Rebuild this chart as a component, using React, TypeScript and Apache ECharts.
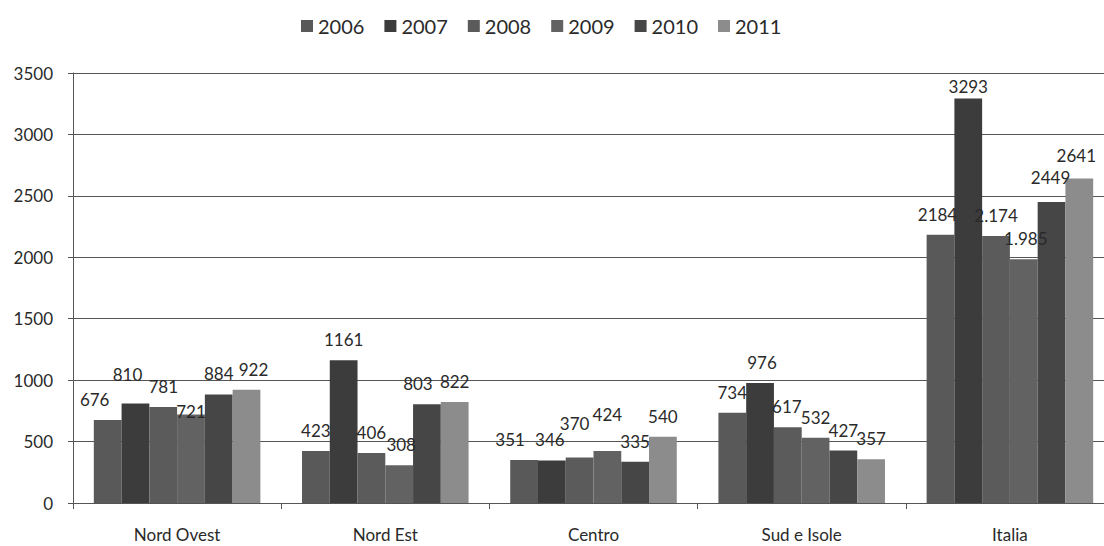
import React, { useEffect, useRef } from "react";
import * as echarts from "echarts";

const categories = ["Nord Ovest", "Nord Est", "Centro", "Sud e Isole", "Italia"];
const years = ["2006", "2007", "2008", "2009", "2010", "2011"];
const v2006 = [676, 423, 351, 734, 2184];
const v2007 = [810, 1161, 346, 976, 3293];
const v2008 = [781, 406, 370, 617, 2174];
const v2009 = [721, 308, 424, 532, 1985];
const v2010 = [884, 803, 335, 427, 2449];
const v2011 = [922, 822, 540, 357, 2641];
const yTicks = [0, 500, 1000, 1500, 2000, 2500, 3000, 3500];
// data label text as printed in the source (two values written with a dot)
const labelText: Record<string, string> = { "2008|Italia": "2.174", "2009|Italia": "1.985" };

const seriesValues = [v2006, v2007, v2008, v2009, v2010, v2011];
const colors = ["#595959", "#3c3c3c", "#5b5b5b", "#626262", "#464646", "#8c8c8c"];
// label nudges [dx, dy] per series / category (layout only)
const labelNudge: number[][][] = [
  [[-13, 0], [0, 0], [-14, 0], [0, 0], [-3, 0]],
  [[-8, -8], [0, 0], [-2, 0], [2, 0], [0, 9]],
  [[0, 0], [0, 0], [-5, -14], [-1, 0], [0, 0]],
  [[0, 18], [2, 0], [0, -16], [0, 0], [2, 0]],
  [[0, 0], [-9, 0], [0, 0], [0, 0], [-1, -4]],
  [[7, 0], [0, 0], [0, 0], [0, 0], [-3, -3]],
];

const FONT = "Lato";

export default function App() {
  const ref = useRef<HTMLDivElement>(null);
  useEffect(() => {
    if (!ref.current) return;
    const chart = echarts.init(ref.current, null, { renderer: "svg" });
    chart.setOption({
      animation: false,
      backgroundColor: "#ffffff",
      textStyle: { fontFamily: FONT },
      legend: {
        data: years,
        top: 11,
        left: 296,
        itemWidth: 12,
        itemHeight: 12,
        itemGap: 20,
        icon: "rect",
        textStyle: { fontFamily: FONT, fontSize: 20, color: "#2a2a2a" },
      },
      grid: {
        left: 73,
        top: 73,
        width: 1041,
        height: 430,
        containLabel: false,
        outerBoundsMode: "none",
      },
      xAxis: {
        type: "category",
        data: categories,
        axisLine: { show: true, lineStyle: { color: "#555", width: 1 } },
        axisTick: { show: true, length: 6, lineStyle: { color: "#555" }, alignWithLabel: false },
        axisLabel: { fontFamily: FONT, fontSize: 17, color: "#2a2a2a", margin: 23 },
      },
      yAxis: {
        type: "value",
        min: yTicks[0],
        max: yTicks[yTicks.length - 1],
        interval: yTicks[1] - yTicks[0],
        axisLine: { show: true, lineStyle: { color: "#555", width: 1 } },
        axisTick: { show: true, length: 5, lineStyle: { color: "#555" } },
        axisLabel: {
          fontFamily: FONT,
          fontSize: 17,
          color: "#2a2a2a",
          margin: 20,
          formatter: (v: number) => String(v),
        },
        splitLine: { show: true, lineStyle: { color: "#555", width: 1 } },
      },
      series: years.map((y, si) => ({
        name: y,
        type: "bar",
        barGap: "0%",
        barCategoryGap: "20%",
        itemStyle: { color: colors[si] },
        label: {
          show: true,
          position: "top",
          distance: 12,
          fontFamily: FONT,
          fontSize: 17,
          color: "#2a2a2a",
          formatter: (p: any) => labelText[`${y}|${p.name}`] ?? String(p.value),
        },
        data: seriesValues[si].map((v, ci) => ({
          value: v,
          label: { offset: labelNudge[si][ci] },
        })),
      })),
    });
    return () => chart.dispose();
  }, []);
  return (
    <div
      ref={ref}
      style={{ position: "absolute", left: 0, top: 0, width: 1104, height: 546 }}
    />
  );
}
